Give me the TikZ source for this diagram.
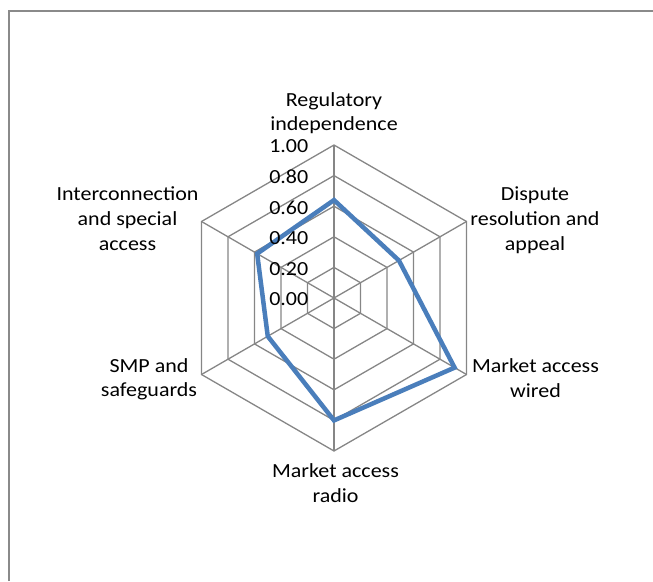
\documentclass[tikz,border=0pt]{standalone}
\usepackage{fontspec}
\setmainfont{Carlito}[FakeStretch=1.1]
\usetikzlibrary{calc}
\definecolor{gridgray}{HTML}{868686}
\definecolor{framegray}{HTML}{8A8A8A}
\definecolor{seriesblue}{HTML}{4A7EBB}
\begin{document}
\begin{tikzpicture}[x=1pt,y=-1pt,
  gridline/.style={draw=gridgray, line width=1.3pt},
  frameline/.style={draw=framegray, line width=1.4pt},
  series/.style={draw=seriesblue, line width=4.5pt, line join=miter},
  catlab/.style={font=\fontsize{20}{24.7}\selectfont, align=center, inner sep=0pt, anchor=base},
  ticklab/.style={font=\fontsize{20}{24}\selectfont, inner sep=0pt, anchor=east}]
\useasboundingbox (0,0) rectangle (653,581);
% chart frame (continues past the page edge)
\coordinate (fbl) at (9,581);
\coordinate (ftl) at (9,11);
\coordinate (ftr) at (653,11);
\draw[frameline] (fbl) -- (ftl) -- (ftr);
\coordinate (O) at (334,298);
\begin{scope}[shift={(O)}]
  % rings
  \foreach \r in {30.6,61.2,91.8,122.4,153} {
    \draw[gridline] (-90:\r) -- (-30:\r) -- (30:\r) -- (90:\r) -- (150:\r) -- (210:\r) -- cycle;
  }
  % spokes
  \foreach \a in {-90,-30,30,90,150,210} {
    \draw[gridline] (0,0) -- (\a:153);
  }
  % data points
  \coordinate (d1) at (-90:{0.64*153});
  \coordinate (d2) at (-30:{0.49*153});
  \coordinate (d3) at (30:{0.91*153});
  \coordinate (d4) at (90:{0.80*153});
  \coordinate (d5) at (150:{0.50*153});
  \coordinate (d6) at (210:{0.58*153});
\end{scope}
\draw[series] (d1) -- (d2) -- (d3) -- (d4) -- (d5) -- (d6) -- cycle;
% axis values
\node[ticklab] (t100) at (308.5,146.5) {1.00};
\node[ticklab] (t080) at (308.5,177.1) {0.80};
\node[ticklab] (t060) at (308.5,207.7) {0.60};
\node[ticklab] (t040) at (308.5,238.3) {0.40};
\node[ticklab] (t020) at (308.5,268.9) {0.20};
\node[ticklab] (t000) at (308.5,299.5) {0.00};
% category labels (anchor = baseline of the last line)
\node[catlab] (c1) at (334,130.7) {Regulatory\\independence};
\node[catlab] (c2) at (535,250) {Dispute\\resolution and\\appeal};
\node[catlab] (c3) at (535.5,397) {Market access\\wired};
\node[catlab] (c4) at (335.5,502) {Market access\\radio};
\node[catlab] (c5) at (149,396.7) {SMP and\\safeguards};
\node[catlab] (c6) at (127.5,250) {Interconnection\\and special\\access};
\end{tikzpicture}
\end{document}
